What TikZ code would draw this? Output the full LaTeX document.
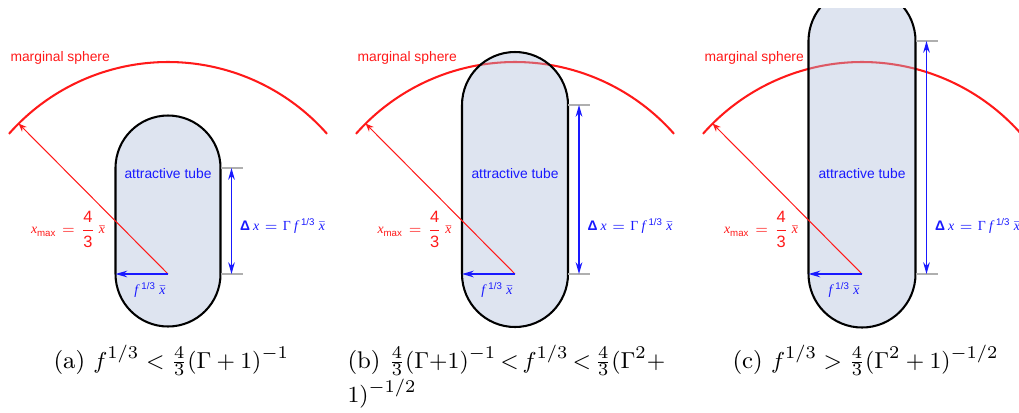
\documentclass[tikz,border=0pt]{standalone}
\usepackage{amsmath}
\usepackage{fontspec}
\newfontfamily\lsans{Liberation Sans}
\newfontfamily\lserif{Liberation Serif}
\usetikzlibrary{arrows.meta,calc}
\definecolor{sred}{RGB}{255,25,25}
\definecolor{sblue}{RGB}{25,25,255}
\definecolor{tubefill}{RGB}{172,187,217}
\definecolor{tickgray}{RGB}{175,175,175}
\newcommand{\ix}{\text{\lserif\itshape x}}
\newcommand{\bigdig}[1]{\text{\lsans\fontsize{6.4}{7}\selectfont #1}}
\newcommand{\xmaxlabel}{$\ix_{\text{\lsans max}} = \dfrac{\bigdig{4}}{\bigdig{3}}\,\bar{\ix}$}
\newcommand{\dxlabel}{$\text{\lsans\bfseries Δ}\,\ix = \text{\lserif Γ}\,\text{\lserif\itshape f}^{\,\text{\lsans 1/3}}\,\bar{\ix}$}
\newcommand{\flabel}{$\text{\lserif\itshape f}^{\,\text{\lsans 1/3}}\,\bar{\ix}$}
\tikzset{
  spherearc/.style={draw=sred, line width=0.8pt},
  tubeshape/.style={draw=black, line width=0.8pt, fill=tubefill, fill opacity=0.4, draw opacity=1},
  radline/.style={draw=sred, line width=0.4pt, -{Stealth[length=3.2pt,width=2.6pt]}},
  halfw/.style={draw=sblue, line width=0.55pt, -{Stealth[length=4.6pt,width=2.6pt]}},
  dimline/.style={draw=sblue, line width=0.55pt, {Stealth[length=4.6pt,width=2.6pt]}-{Stealth[length=4.6pt,width=2.6pt]}},
  tickline/.style={draw=tickgray, line width=0.6pt},
  lab/.style={font=\lsans\fontsize{5.4}{6.5}\selectfont, inner sep=0pt},
  captext/.style={font=\fontsize{9.4}{13.3}\selectfont, inner sep=0pt, anchor=base west},
}
% #1 prefix, #2 cx, #3 top of straight part, #4 half width
\newcommand{\drawpanel}[4]{%
  \coordinate (#1o) at (#2,274);
  \coordinate (#1l) at ({#2-#4},274);
  \coordinate (#1tt) at ({#2+#4},#3);
  \coordinate (#1tb) at ({#2+#4},274);
  \coordinate (#1rim) at ($(#1o)+(225.2:212)$);
  \draw[spherearc] ($(#1o)+(221.4:212)$) arc[start angle=221.4, end angle=318.6, radius=212];
  \path[tubeshape] ({#2-#4},#3) -- ({#2-#4},274) arc[start angle=180, end angle=0, radius=#4]
     -- ({#2+#4},#3) arc[start angle=0, end angle=-180, radius=#4] -- cycle;
  \draw[tickline] (#1tt) -- ++(22,0) coordinate (#1tte);
  \draw[tickline] (#1tb) -- ++(22,0) coordinate (#1tbe);
  \draw[dimline] ($(#1tt)+(11,0)$) -- ($(#1tb)+(11,0)$);
  \draw[radline] (#1o) -- (#1rim);
  \draw[halfw] (#1o) -- (#1l);
  \node[lab, text=sred, anchor=west] (#1ms) at ({#2-158},58) {marginal sphere};
  \node[lab, text=sblue] (#1at) at (#2,174) {attractive tube};
  \node[lab, text=sblue, anchor=west] (#1dx) at ({#2+#4+19},226) {\dxlabel};
  \node[lab, text=sred, anchor=east] (#1xm) at ({#2-#4-10},229) {\xmaxlabel};
  \node[lab, text=sblue] (#1fl) at ({#2-18},290) {\flabel};
}
\begin{document}
\begin{tikzpicture}[x=0.39pt, y=-0.39pt]
\useasboundingbox (0,0) rectangle (1019,412);
\drawpanel{a}{168}{168}{52.5}
\drawpanel{b}{515}{105}{53}
\begin{scope}
  \clip (680,8) rectangle (1019,412);
  \drawpanel{c}{862}{41}{53.5}
\end{scope}
\node[captext] (capa) at (53,368) {(a) $f^{1/3} < \frac{4}{3}(\Gamma+1)^{-1}$};
\node[captext] (capb) at (347,368) {\vtop{\hbox{(b) $\thickmuskip=3mu\frac{4}{3}(\Gamma{+}1)^{-1} < f^{1/3} < \frac{4}{3}(\Gamma^2+$}\hbox{$1)^{-1/2}$}}};
\node[captext] (capc) at (732,368) {(c) $f^{1/3} > \frac{4}{3}(\Gamma^2+1)^{-1/2}$};
\end{tikzpicture}
\end{document}
